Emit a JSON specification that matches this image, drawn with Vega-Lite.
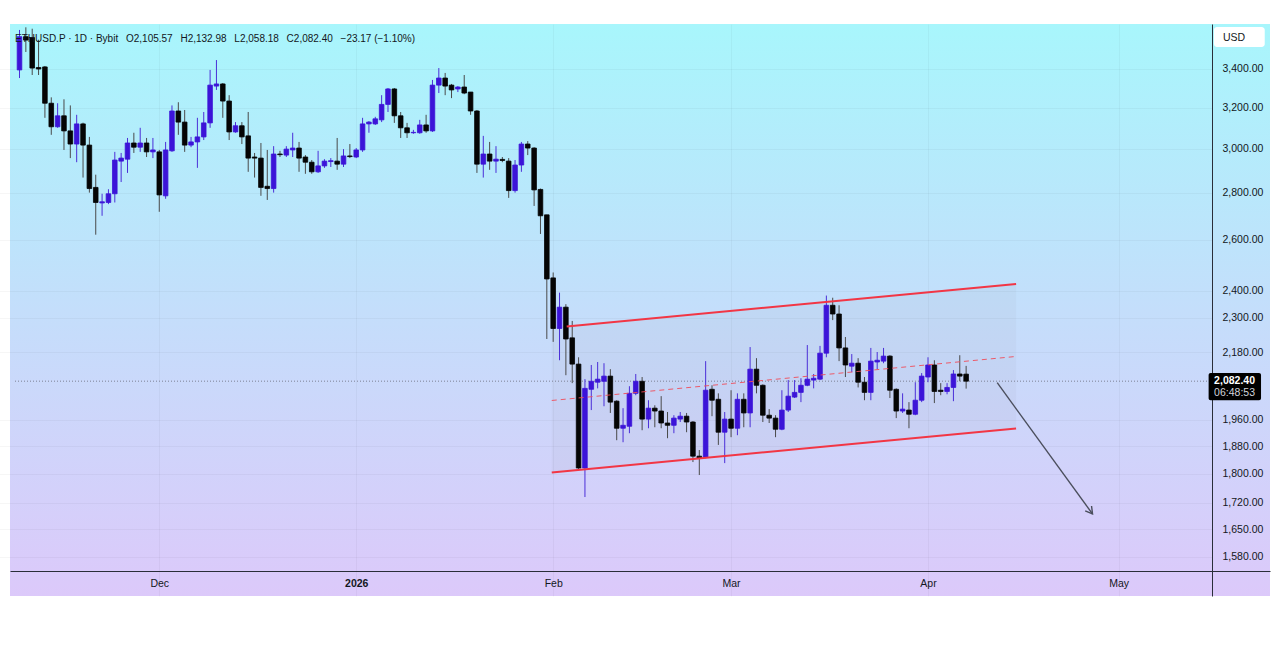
{
  "$schema": "https://vega.github.io/schema/vega-lite/v6.json",
  "description": "ETHUSD.P daily candles (Bybit) with a rising channel and a bearish arrow.",
  "width": 1260,
  "height": 572,
  "autosize": {"type": "none"},
  "padding": {"left": 10, "top": 24, "right": 10, "bottom": 53},
  "background": "white",
  "title": {
    "text": "ETHUSD.P · 1D · Bybit\u2002 O2,105.57\u2002 H2,132.98\u2002 L2,058.18\u2002 C2,082.40\u2002 −23.17 (−1.10%)",
    "anchor": "start",
    "frame": "group",
    "offset": -20,
    "dx": 5,
    "fontSize": 10,
    "fontWeight": "normal",
    "color": "#131722",
    "font": "Liberation Sans"
  },
  "config": {
    "view": {
      "stroke": null,
      "fill": {
        "gradient": "linear",
        "x1": 0, "y1": 0, "x2": 0, "y2": 1,
        "stops": [
          {"offset": 0, "color": "#a8f6fc"},
          {"offset": 0.5, "color": "#c4defb"},
          {"offset": 1, "color": "#dcc9fa"}
        ]
      }
    },
    "axis": {
      "labelFont": "Liberation Sans",
      "labelFontSize": 10.5,
      "labelColor": "#131722",
      "domainColor": "#2a2e39",
      "ticks": false,
      "gridColor": "#000000",
      "gridOpacity": 0.035
    },
    "axisY": {
      "title": null,
      "orient": "right",
      "offset": -58,
      "labelPadding": 10,
      "labelAlign": "left",
      "grid": true
    }
  },
  "datasets": {
    "candles": [
      {"t":"2025-11-09","o":3395,"h":3615,"l":3352,"c":3577},
      {"t":"2025-11-10","o":3577,"h":3630,"l":3492,"c":3558},
      {"t":"2025-11-11","o":3572,"h":3622,"l":3368,"c":3405},
      {"t":"2025-11-12","o":3408,"h":3560,"l":3368,"c":3400},
      {"t":"2025-11-13","o":3411,"h":3416,"l":3149,"c":3222},
      {"t":"2025-11-14","o":3222,"h":3252,"l":3066,"c":3105},
      {"t":"2025-11-15","o":3105,"h":3222,"l":3100,"c":3159},
      {"t":"2025-11-16","o":3159,"h":3242,"l":2994,"c":3085},
      {"t":"2025-11-17","o":3085,"h":3211,"l":2956,"c":3022},
      {"t":"2025-11-18","o":3022,"h":3164,"l":2937,"c":3119},
      {"t":"2025-11-19","o":3119,"h":3125,"l":2867,"c":3017},
      {"t":"2025-11-20","o":3017,"h":3056,"l":2800,"c":2818},
      {"t":"2025-11-21","o":2823,"h":2880,"l":2621,"c":2757},
      {"t":"2025-11-22","o":2755,"h":2795,"l":2700,"c":2760},
      {"t":"2025-11-23","o":2757,"h":2815,"l":2750,"c":2795},
      {"t":"2025-11-24","o":2795,"h":2985,"l":2757,"c":2947},
      {"t":"2025-11-25","o":2942,"h":2980,"l":2847,"c":2956},
      {"t":"2025-11-26","o":2951,"h":3051,"l":2888,"c":3027},
      {"t":"2025-11-27","o":3027,"h":3076,"l":2980,"c":3007},
      {"t":"2025-11-28","o":3007,"h":3100,"l":2985,"c":3027},
      {"t":"2025-11-29","o":3027,"h":3051,"l":2961,"c":2985},
      {"t":"2025-11-30","o":2985,"h":3051,"l":2956,"c":2994},
      {"t":"2025-12-01","o":2985,"h":2994,"l":2717,"c":2790},
      {"t":"2025-12-02","o":2786,"h":3032,"l":2773,"c":2994},
      {"t":"2025-12-03","o":2990,"h":3211,"l":2985,"c":3183},
      {"t":"2025-12-04","o":3183,"h":3227,"l":3066,"c":3128},
      {"t":"2025-12-05","o":3128,"h":3188,"l":2985,"c":3017},
      {"t":"2025-12-06","o":3017,"h":3056,"l":3007,"c":3032},
      {"t":"2025-12-07","o":3032,"h":3149,"l":2911,"c":3056},
      {"t":"2025-12-08","o":3056,"h":3178,"l":3041,"c":3124},
      {"t":"2025-12-09","o":3124,"h":3395,"l":3100,"c":3315},
      {"t":"2025-12-10","o":3310,"h":3448,"l":3290,"c":3321},
      {"t":"2025-12-11","o":3321,"h":3326,"l":3149,"c":3233},
      {"t":"2025-12-12","o":3233,"h":3263,"l":3041,"c":3080},
      {"t":"2025-12-13","o":3080,"h":3128,"l":3076,"c":3110},
      {"t":"2025-12-14","o":3110,"h":3128,"l":3022,"c":3056},
      {"t":"2025-12-15","o":3061,"h":3178,"l":2893,"c":2956},
      {"t":"2025-12-16","o":2961,"h":2980,"l":2867,"c":2956},
      {"t":"2025-12-17","o":2956,"h":3027,"l":2786,"c":2823},
      {"t":"2025-12-18","o":2828,"h":2994,"l":2768,"c":2818},
      {"t":"2025-12-19","o":2818,"h":3012,"l":2800,"c":2975},
      {"t":"2025-12-20","o":2975,"h":2990,"l":2961,"c":2972},
      {"t":"2025-12-21","o":2970,"h":3012,"l":2961,"c":2998},
      {"t":"2025-12-22","o":2994,"h":3076,"l":2961,"c":3003},
      {"t":"2025-12-23","o":3003,"h":3032,"l":2893,"c":2956},
      {"t":"2025-12-24","o":2961,"h":2970,"l":2884,"c":2937},
      {"t":"2025-12-25","o":2937,"h":2947,"l":2884,"c":2893},
      {"t":"2025-12-26","o":2893,"h":2990,"l":2888,"c":2920},
      {"t":"2025-12-27","o":2920,"h":2951,"l":2911,"c":2942},
      {"t":"2025-12-28","o":2940,"h":2956,"l":2915,"c":2944},
      {"t":"2025-12-29","o":2942,"h":3051,"l":2902,"c":2928},
      {"t":"2025-12-30","o":2928,"h":2998,"l":2915,"c":2966},
      {"t":"2025-12-31","o":2966,"h":3022,"l":2956,"c":2963},
      {"t":"2026-01-01","o":2961,"h":3003,"l":2956,"c":2994},
      {"t":"2026-01-02","o":2994,"h":3149,"l":2985,"c":3119},
      {"t":"2026-01-03","o":3119,"h":3133,"l":3076,"c":3128},
      {"t":"2026-01-04","o":3119,"h":3154,"l":3114,"c":3144},
      {"t":"2026-01-05","o":3139,"h":3263,"l":3128,"c":3216},
      {"t":"2026-01-06","o":3216,"h":3300,"l":3178,"c":3295},
      {"t":"2026-01-07","o":3295,"h":3300,"l":3124,"c":3159},
      {"t":"2026-01-08","o":3159,"h":3178,"l":3051,"c":3100},
      {"t":"2026-01-09","o":3100,"h":3124,"l":3051,"c":3076},
      {"t":"2026-01-10","o":3076,"h":3090,"l":3071,"c":3078},
      {"t":"2026-01-11","o":3076,"h":3139,"l":3071,"c":3114},
      {"t":"2026-01-12","o":3114,"h":3164,"l":3076,"c":3085},
      {"t":"2026-01-13","o":3085,"h":3342,"l":3080,"c":3315},
      {"t":"2026-01-14","o":3315,"h":3405,"l":3274,"c":3352},
      {"t":"2026-01-15","o":3352,"h":3379,"l":3263,"c":3310},
      {"t":"2026-01-16","o":3315,"h":3321,"l":3248,"c":3290},
      {"t":"2026-01-17","o":3295,"h":3310,"l":3279,"c":3305},
      {"t":"2026-01-18","o":3305,"h":3368,"l":3268,"c":3274},
      {"t":"2026-01-19","o":3279,"h":3279,"l":3164,"c":3183},
      {"t":"2026-01-20","o":3183,"h":3188,"l":2888,"c":2928},
      {"t":"2026-01-21","o":2928,"h":3061,"l":2867,"c":2975},
      {"t":"2026-01-22","o":2975,"h":3032,"l":2902,"c":2942},
      {"t":"2026-01-23","o":2942,"h":3012,"l":2888,"c":2951},
      {"t":"2026-01-24","o":2950,"h":2961,"l":2937,"c":2945},
      {"t":"2026-01-25","o":2942,"h":2956,"l":2777,"c":2809},
      {"t":"2026-01-26","o":2809,"h":2947,"l":2800,"c":2924},
      {"t":"2026-01-27","o":2924,"h":3032,"l":2893,"c":3022},
      {"t":"2026-01-28","o":3022,"h":3036,"l":2970,"c":3003},
      {"t":"2026-01-29","o":3003,"h":3007,"l":2742,"c":2812},
      {"t":"2026-01-30","o":2814,"h":2818,"l":2624,"c":2700},
      {"t":"2026-01-31","o":2704,"h":2704,"l":2225,"c":2445},
      {"t":"2026-02-01","o":2449,"h":2470,"l":2215,"c":2262},
      {"t":"2026-02-02","o":2262,"h":2393,"l":2152,"c":2339},
      {"t":"2026-02-03","o":2339,"h":2350,"l":2102,"c":2225},
      {"t":"2026-02-04","o":2229,"h":2289,"l":2076,"c":2139},
      {"t":"2026-02-05","o":2139,"h":2162,"l":1811,"c":1817},
      {"t":"2026-02-06","o":1817,"h":2089,"l":1736,"c":2059},
      {"t":"2026-02-07","o":2056,"h":2136,"l":1990,"c":2082},
      {"t":"2026-02-08","o":2079,"h":2146,"l":2059,"c":2089},
      {"t":"2026-02-09","o":2082,"h":2142,"l":2002,"c":2099},
      {"t":"2026-02-10","o":2099,"h":2122,"l":1981,"c":2015},
      {"t":"2026-02-11","o":2018,"h":2021,"l":1898,"c":1934},
      {"t":"2026-02-12","o":1934,"h":1996,"l":1892,"c":1943},
      {"t":"2026-02-13","o":1940,"h":2066,"l":1919,"c":2043},
      {"t":"2026-02-14","o":2043,"h":2106,"l":2037,"c":2082},
      {"t":"2026-02-15","o":2082,"h":2096,"l":1928,"c":1962},
      {"t":"2026-02-16","o":1962,"h":2021,"l":1934,"c":1996},
      {"t":"2026-02-17","o":1996,"h":2005,"l":1937,"c":1987},
      {"t":"2026-02-18","o":1987,"h":2034,"l":1934,"c":1950},
      {"t":"2026-02-19","o":1950,"h":1984,"l":1904,"c":1943},
      {"t":"2026-02-20","o":1943,"h":1974,"l":1919,"c":1965},
      {"t":"2026-02-21","o":1962,"h":1984,"l":1953,"c":1971},
      {"t":"2026-02-22","o":1971,"h":1981,"l":1922,"c":1953},
      {"t":"2026-02-23","o":1953,"h":1956,"l":1834,"c":1851},
      {"t":"2026-02-24","o":1851,"h":1869,"l":1797,"c":1845},
      {"t":"2026-02-25","o":1848,"h":2149,"l":1845,"c":2053},
      {"t":"2026-02-26","o":2056,"h":2069,"l":1971,"c":2021},
      {"t":"2026-02-27","o":2024,"h":2043,"l":1884,"c":1922},
      {"t":"2026-02-28","o":1922,"h":1984,"l":1831,"c":1962},
      {"t":"2026-03-01","o":1962,"h":2053,"l":1907,"c":1934},
      {"t":"2026-03-02","o":1934,"h":2043,"l":1913,"c":2024},
      {"t":"2026-03-03","o":2024,"h":2043,"l":1937,"c":1981},
      {"t":"2026-03-04","o":1981,"h":2197,"l":1937,"c":2122},
      {"t":"2026-03-05","o":2122,"h":2159,"l":2043,"c":2069},
      {"t":"2026-03-06","o":2069,"h":2072,"l":1953,"c":1974},
      {"t":"2026-03-07","o":1974,"h":1993,"l":1950,"c":1965},
      {"t":"2026-03-08","o":1965,"h":1974,"l":1907,"c":1931},
      {"t":"2026-03-09","o":1931,"h":2053,"l":1928,"c":1990},
      {"t":"2026-03-10","o":1990,"h":2086,"l":1984,"c":2034},
      {"t":"2026-03-11","o":2031,"h":2086,"l":2028,"c":2046},
      {"t":"2026-03-12","o":2046,"h":2092,"l":2015,"c":2069},
      {"t":"2026-03-13","o":2069,"h":2204,"l":2066,"c":2089},
      {"t":"2026-03-14","o":2086,"h":2106,"l":2059,"c":2092},
      {"t":"2026-03-15","o":2089,"h":2201,"l":2086,"c":2176},
      {"t":"2026-03-16","o":2176,"h":2382,"l":2162,"c":2346},
      {"t":"2026-03-17","o":2346,"h":2374,"l":2292,"c":2314},
      {"t":"2026-03-18","o":2314,"h":2346,"l":2149,"c":2194},
      {"t":"2026-03-19","o":2194,"h":2232,"l":2096,"c":2136},
      {"t":"2026-03-20","o":2132,"h":2173,"l":2112,"c":2142},
      {"t":"2026-03-21","o":2142,"h":2159,"l":2062,"c":2079},
      {"t":"2026-03-22","o":2079,"h":2096,"l":2021,"c":2046},
      {"t":"2026-03-23","o":2046,"h":2194,"l":2021,"c":2149},
      {"t":"2026-03-24","o":2146,"h":2180,"l":2122,"c":2152},
      {"t":"2026-03-25","o":2149,"h":2194,"l":2142,"c":2166},
      {"t":"2026-03-26","o":2166,"h":2169,"l":2028,"c":2053},
      {"t":"2026-03-27","o":2056,"h":2059,"l":1965,"c":1987},
      {"t":"2026-03-28","o":1987,"h":2043,"l":1981,"c":1993},
      {"t":"2026-03-29","o":1990,"h":2015,"l":1934,"c":1977},
      {"t":"2026-03-30","o":1977,"h":2079,"l":1974,"c":2021},
      {"t":"2026-03-31","o":2021,"h":2109,"l":2015,"c":2099},
      {"t":"2026-04-01","o":2096,"h":2162,"l":2079,"c":2136},
      {"t":"2026-04-02","o":2136,"h":2152,"l":2012,"c":2049},
      {"t":"2026-04-03","o":2053,"h":2076,"l":2037,"c":2049},
      {"t":"2026-04-04","o":2049,"h":2076,"l":2040,"c":2062},
      {"t":"2026-04-05","o":2062,"h":2119,"l":2018,"c":2106},
      {"t":"2026-04-06","o":2106,"h":2169,"l":2082,"c":2099},
      {"t":"2026-04-07","o":2105.57,"h":2132.98,"l":2058.18,"c":2082.40}
    ],
    "channelFill": [
      {"t":"2026-01-31T18:40:00Z","lo":1804.3,"hi":2264.2},
      {"t":"2026-04-14T20:40:00Z","lo":1933.3,"hi":2425.7}
    ],
    "channel": [
      {"line":"upper","t":"2026-02-03T03:00:00Z","p":2269.2},
      {"line":"upper","t":"2026-04-14T20:40:00Z","p":2425.7},
      {"line":"lower","t":"2026-01-31T18:40:00Z","p":1804.3},
      {"line":"lower","t":"2026-04-14T20:40:00Z","p":1933.3}
    ],
    "midline": [
      {"t":"2026-01-31T18:40:00Z","p":2020.2},
      {"t":"2026-04-14T20:40:00Z","p":2164.8}
    ],
    "arrow": [
      {"part":"shaft","k":0,"t":"2026-04-11T21:20:00Z","p":2077.5},
      {"part":"shaft","k":1,"t":"2026-04-26T21:30:00Z","p":1690.4},
      {"part":"head","k":0,"t":"2026-04-26T17:45:00Z","p":1711.8},
      {"part":"head","k":1,"t":"2026-04-26T21:30:00Z","p":1690.4},
      {"part":"head","k":2,"t":"2026-04-25T17:45:00Z","p":1698.9}
    ],
    "lastPrice": [
      {"t":"2025-11-08T07:00:00Z","t2":"2026-05-15T00:00:00Z","p":2082.40}
    ],
    "priceBox": [
      {"t":"2026-05-15T04:00:00Z","t2":"2026-05-23T10:00:00Z","p":2109.3,"p2":2021.0}
    ],
    "priceText": [
      {"t":"2026-05-19T06:00:00Z","p":2082.40,"label":"2,082.40"}
    ],
    "timerText": [
      {"t":"2026-05-19T06:00:00Z","p":2044.2,"label":"06:48:53"}
    ],
    "usdBox": [
      {"t":"2026-05-16T00:00:00Z","t2":"2026-05-24T00:00:00Z","p":3632,"p2":3519.5}
    ],
    "usdText": [
      {"t":"2026-05-17T10:00:00Z","p":3570,"label":"USD"}
    ]
  },
  "encoding": {
    "x": {
      "field": "t",
      "type": "temporal",
      "scale": {
        "type": "utc",
        "domain": [
          {"year": 2025, "month": 11, "date": 8, "hours": 7, "utc": true},
          {"year": 2026, "month": 5, "date": 24, "hours": 1, "utc": true}
        ],
        "nice": false
      },
      "axis": {
        "title": null,
        "orient": "bottom",
        "offset": -25,
        "labelPadding": 7,
        "grid": true,
        "values": [
          {"year": 2025, "month": 12, "date": 1, "utc": true},
          {"year": 2026, "month": 1, "date": 1, "utc": true},
          {"year": 2026, "month": 2, "date": 1, "utc": true},
          {"year": 2026, "month": 3, "date": 1, "utc": true},
          {"year": 2026, "month": 4, "date": 1, "utc": true},
          {"year": 2026, "month": 5, "date": 1, "utc": true}
        ],
        "labelExpr": "utcmonth(datum.value) == 0 ? utcFormat(datum.value, '%Y') : utcFormat(datum.value, '%b')",
        "labelFontWeight": {"condition": {"test": "utcmonth(datum.value) == 0", "value": "bold"}, "value": "normal"}
      }
    }
  },
  "layer": [
    {
      "data": {"name": "channelFill"},
      "mark": {"type": "area", "color": "#8f8f99", "opacity": 0.07},
      "encoding": {
        "y": {"field": "hi", "type": "quantitative", "title": null, "scale": {"type": "log", "domain": [1486.1, 3648.9], "nice": false, "zero": false},
          "axis": {"values": [1580, 1650, 1720, 1800, 1880, 1960, 2180, 2300, 2400, 2600, 2800, 3000, 3200, 3400], "format": ",.2f"}},
        "y2": {"field": "lo"}
      }
    },
    {
      "data": {"name": "lastPrice"},
      "mark": {"type": "rule", "color": "#7d8294", "strokeWidth": 1, "strokeDash": [1, 2]},
      "encoding": {
        "x2": {"field": "t2"},
        "y": {"field": "p", "type": "quantitative", "title": null, "scale": {"type": "log", "domain": [1486.1, 3648.9], "nice": false, "zero": false},
          "axis": {"values": [1580, 1650, 1720, 1800, 1880, 1960, 2180, 2300, 2400, 2600, 2800, 3000, 3200, 3400], "format": ",.2f"}}
      }
    },
    {
      "data": {"name": "candles"},
      "mark": {"type": "rule", "strokeWidth": 1},
      "encoding": {
        "y": {"field": "l", "type": "quantitative", "title": null, "scale": {"type": "log", "domain": [1486.1, 3648.9], "nice": false, "zero": false},
          "axis": {"values": [1580, 1650, 1720, 1800, 1880, 1960, 2180, 2300, 2400, 2600, 2800, 3000, 3200, 3400], "format": ",.2f"}},
        "y2": {"field": "h"},
        "color": {"condition": {"test": "datum.c >= datum.o", "value": "#4b2fd8"}, "value": "#4a4a4a"}
      }
    },
    {
      "data": {"name": "candles"},
      "mark": {"type": "bar", "width": 4.6, "strokeWidth": 0.8},
      "encoding": {
        "y": {"field": "o", "type": "quantitative", "title": null, "scale": {"type": "log", "domain": [1486.1, 3648.9], "nice": false, "zero": false},
          "axis": {"values": [1580, 1650, 1720, 1800, 1880, 1960, 2180, 2300, 2400, 2600, 2800, 3000, 3200, 3400], "format": ",.2f"}},
        "y2": {"field": "c"},
        "color": {"condition": {"test": "datum.c >= datum.o", "value": "#3c14d8"}, "value": "#050505"},
        "stroke": {"condition": {"test": "datum.c >= datum.o", "value": "#3c14d8"}, "value": "#050505"}
      }
    },
    {
      "data": {"name": "channel"},
      "mark": {"type": "line", "color": "#f23645", "strokeWidth": 2},
      "encoding": {
        "detail": {"field": "line"},
        "y": {"field": "p", "type": "quantitative", "title": null, "scale": {"type": "log", "domain": [1486.1, 3648.9], "nice": false, "zero": false},
          "axis": {"values": [1580, 1650, 1720, 1800, 1880, 1960, 2180, 2300, 2400, 2600, 2800, 3000, 3200, 3400], "format": ",.2f"}}
      }
    },
    {
      "data": {"name": "midline"},
      "mark": {"type": "line", "color": "#ef4d5a", "strokeWidth": 1, "strokeDash": [5, 4], "opacity": 0.9},
      "encoding": {
        "y": {"field": "p", "type": "quantitative", "title": null, "scale": {"type": "log", "domain": [1486.1, 3648.9], "nice": false, "zero": false},
          "axis": {"values": [1580, 1650, 1720, 1800, 1880, 1960, 2180, 2300, 2400, 2600, 2800, 3000, 3200, 3400], "format": ",.2f"}}
      }
    },
    {
      "data": {"name": "arrow"},
      "mark": {"type": "line", "color": "#4a4e5c", "strokeWidth": 1.4},
      "encoding": {
        "detail": {"field": "part"},
        "order": {"field": "k"},
        "y": {"field": "p", "type": "quantitative", "title": null, "scale": {"type": "log", "domain": [1486.1, 3648.9], "nice": false, "zero": false},
          "axis": {"values": [1580, 1650, 1720, 1800, 1880, 1960, 2180, 2300, 2400, 2600, 2800, 3000, 3200, 3400], "format": ",.2f"}}
      }
    },
    {
      "data": {"name": "priceBox"},
      "mark": {"type": "rect", "color": "#000000", "cornerRadius": 2},
      "encoding": {
        "x2": {"field": "t2"},
        "y": {"field": "p", "type": "quantitative", "title": null, "scale": {"type": "log", "domain": [1486.1, 3648.9], "nice": false, "zero": false},
          "axis": {"values": [1580, 1650, 1720, 1800, 1880, 1960, 2180, 2300, 2400, 2600, 2800, 3000, 3200, 3400], "format": ",.2f"}},
        "y2": {"field": "p2"}
      }
    },
    {
      "data": {"name": "priceText"},
      "mark": {"type": "text", "color": "#ffffff", "font": "Liberation Sans", "fontSize": 10.5, "fontWeight": "bold", "align": "center", "baseline": "middle"},
      "encoding": {
        "y": {"field": "p", "type": "quantitative", "title": null, "scale": {"type": "log", "domain": [1486.1, 3648.9], "nice": false, "zero": false},
          "axis": {"values": [1580, 1650, 1720, 1800, 1880, 1960, 2180, 2300, 2400, 2600, 2800, 3000, 3200, 3400], "format": ",.2f"}},
        "text": {"field": "label"}
      }
    },
    {
      "data": {"name": "timerText"},
      "mark": {"type": "text", "color": "#d1d4dc", "font": "Liberation Sans", "fontSize": 10.5, "align": "center", "baseline": "middle"},
      "encoding": {
        "y": {"field": "p", "type": "quantitative", "title": null, "scale": {"type": "log", "domain": [1486.1, 3648.9], "nice": false, "zero": false},
          "axis": {"values": [1580, 1650, 1720, 1800, 1880, 1960, 2180, 2300, 2400, 2600, 2800, 3000, 3200, 3400], "format": ",.2f"}},
        "text": {"field": "label"}
      }
    },
    {
      "data": {"name": "usdBox"},
      "mark": {"type": "rect", "color": "#ffffff", "cornerRadius": 3},
      "encoding": {
        "x2": {"field": "t2"},
        "y": {"field": "p", "type": "quantitative", "title": null, "scale": {"type": "log", "domain": [1486.1, 3648.9], "nice": false, "zero": false},
          "axis": {"values": [1580, 1650, 1720, 1800, 1880, 1960, 2180, 2300, 2400, 2600, 2800, 3000, 3200, 3400], "format": ",.2f"}},
        "y2": {"field": "p2"}
      }
    },
    {
      "data": {"name": "usdText"},
      "mark": {"type": "text", "color": "#131722", "font": "Liberation Sans", "fontSize": 10.5, "align": "left", "baseline": "middle"},
      "encoding": {
        "y": {"field": "p", "type": "quantitative", "title": null, "scale": {"type": "log", "domain": [1486.1, 3648.9], "nice": false, "zero": false},
          "axis": {"values": [1580, 1650, 1720, 1800, 1880, 1960, 2180, 2300, 2400, 2600, 2800, 3000, 3200, 3400], "format": ",.2f"}},
        "text": {"field": "label"}
      }
    }
  ]
}
